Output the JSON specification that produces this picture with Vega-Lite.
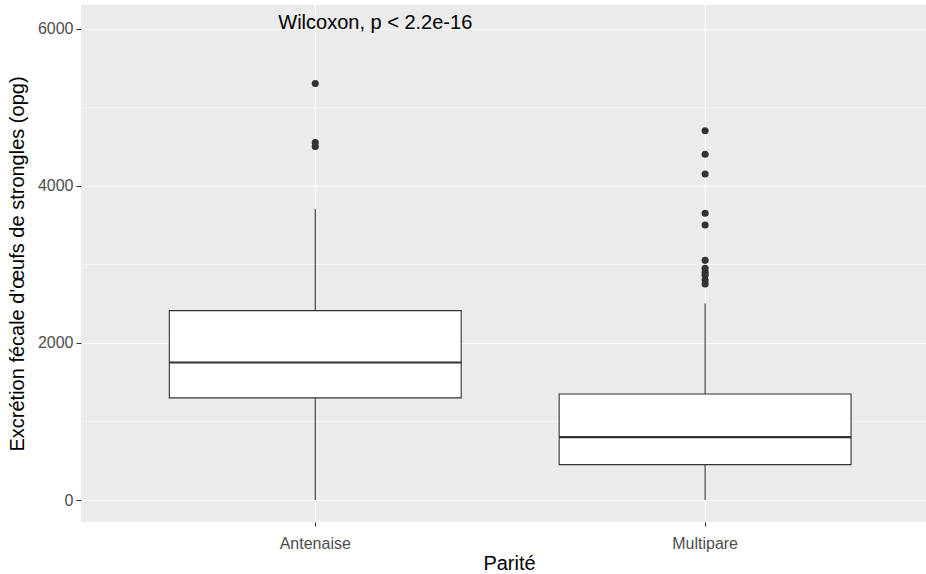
{
  "$schema": "https://vega.github.io/schema/vega-lite/v6.json",
  "width": 845,
  "height": 517,
  "autosize": "none",
  "padding": {"left": 81, "top": 5, "right": 0, "bottom": 52},
  "background": "white",
  "config": {
    "font": "Liberation Sans",
    "view": {"fill": "#EBEBEB", "stroke": null}
  },
  "datasets": {
    "summary": [
      {"parite": "Antenaise", "lower": 0, "q1": 1300, "median": 1750, "q3": 2410, "upper": 3700},
      {"parite": "Multipare", "lower": 0, "q1": 450, "median": 800, "q3": 1350, "upper": 2500}
    ],
    "outliers": [
      {"parite": "Antenaise", "value": 5300},
      {"parite": "Antenaise", "value": 4550},
      {"parite": "Antenaise", "value": 4500},
      {"parite": "Multipare", "value": 4700},
      {"parite": "Multipare", "value": 4400},
      {"parite": "Multipare", "value": 4150},
      {"parite": "Multipare", "value": 3650},
      {"parite": "Multipare", "value": 3500},
      {"parite": "Multipare", "value": 3050},
      {"parite": "Multipare", "value": 2950},
      {"parite": "Multipare", "value": 2900},
      {"parite": "Multipare", "value": 2860},
      {"parite": "Multipare", "value": 2800},
      {"parite": "Multipare", "value": 2750}
    ],
    "label": [
      {"parite": "Antenaise", "value": 6000, "text": "Wilcoxon, p < 2.2e-16"}
    ]
  },
  "layer": [
    {
      "data": {"name": "summary"},
      "mark": {"type": "rule", "color": "#333333", "strokeWidth": 1.1},
      "encoding": {
        "x": {
          "field": "parite", "type": "nominal", "title": "Parité",
          "scale": {"domain": ["Antenaise", "Multipare"], "paddingInner": 0.2513, "paddingOuter": 0.2094, "align": 0.541},
          "axis": {
            "title": "Parité",
            "titleFontSize": 20, "titleColor": "#000000", "titleFontWeight": "normal",
            "titleX": 428, "titleY": 47, "titleAlign": "center", "titleBaseline": "alphabetic", "titleAnchor": null,
            "labelFontSize": 16, "labelColor": "#4D4D4D", "labelBaseline": "alphabetic", "labelPadding": 22, "labelAngle": 0,
            "tickColor": "#333333", "tickSize": 4, "tickWidth": 1.1,
            "domain": false,
            "grid": true, "gridColor": "#FFFFFF", "gridWidth": 1.1, "gridOpacity": 1
          }
        },
        "y": {
          "field": "lower", "type": "quantitative", "title": "Excrétion fécale d'œufs de strongles (opg)",
          "scale": {"domain": [-280, 6300], "nice": false, "zero": false},
          "axis": {
            "title": "Excrétion fécale d'œufs de strongles (opg)",
            "titleFontSize": 20, "titleColor": "#000000", "titleFontWeight": "normal",
            "titleAngle": 270, "titleX": -58, "titleY": 258.5, "titleAlign": "center", "titleBaseline": "alphabetic", "titleAnchor": null,
            "values": [0, 1000, 2000, 3000, 4000, 5000, 6000],
            "labelExpr": "datum.value % 2000 === 0 ? datum.label : ''",
            "format": "d",
            "labelFontSize": 16, "labelColor": "#4D4D4D", "labelPadding": 3,
            "tickColor": "#333333", "tickSize": 5, "tickWidth": 1.1,
            "tickOpacity": {"condition": {"test": "datum.value % 2000 !== 0", "value": 0}, "value": 1},
            "domain": false,
            "grid": true, "gridColor": "#FFFFFF", "gridOpacity": 1,
            "gridWidth": {"condition": {"test": "datum.value % 2000 !== 0", "value": 0.55}, "value": 1.1}
          }
        },
        "y2": {"field": "upper"}
      }
    },
    {
      "data": {"name": "summary"},
      "mark": {"type": "bar", "fill": "#FFFFFF", "stroke": "#333333", "strokeWidth": 1.1},
      "encoding": {
        "x": {"field": "parite", "type": "nominal", "title": "Parité"},
        "y": {"field": "q1", "type": "quantitative", "title": "Excrétion fécale d'œufs de strongles (opg)"},
        "y2": {"field": "q3"}
      }
    },
    {
      "data": {"name": "summary"},
      "mark": {"type": "tick", "color": "#333333", "thickness": 2.2, "size": 292, "opacity": 1},
      "encoding": {
        "x": {"field": "parite", "type": "nominal", "title": "Parité"},
        "y": {"field": "median", "type": "quantitative", "title": "Excrétion fécale d'œufs de strongles (opg)"}
      }
    },
    {
      "data": {"name": "outliers"},
      "mark": {"type": "circle", "color": "#333333", "size": 50, "opacity": 1},
      "encoding": {
        "x": {"field": "parite", "type": "nominal", "title": "Parité"},
        "y": {"field": "value", "type": "quantitative", "title": "Excrétion fécale d'œufs de strongles (opg)"}
      }
    },
    {
      "data": {"name": "label"},
      "mark": {"type": "text", "align": "left", "baseline": "alphabetic", "dx": -37, "fontSize": 20, "color": "#000000"},
      "encoding": {
        "x": {"field": "parite", "type": "nominal", "title": "Parité"},
        "y": {"field": "value", "type": "quantitative", "title": "Excrétion fécale d'œufs de strongles (opg)"},
        "text": {"field": "text"}
      }
    }
  ]
}
